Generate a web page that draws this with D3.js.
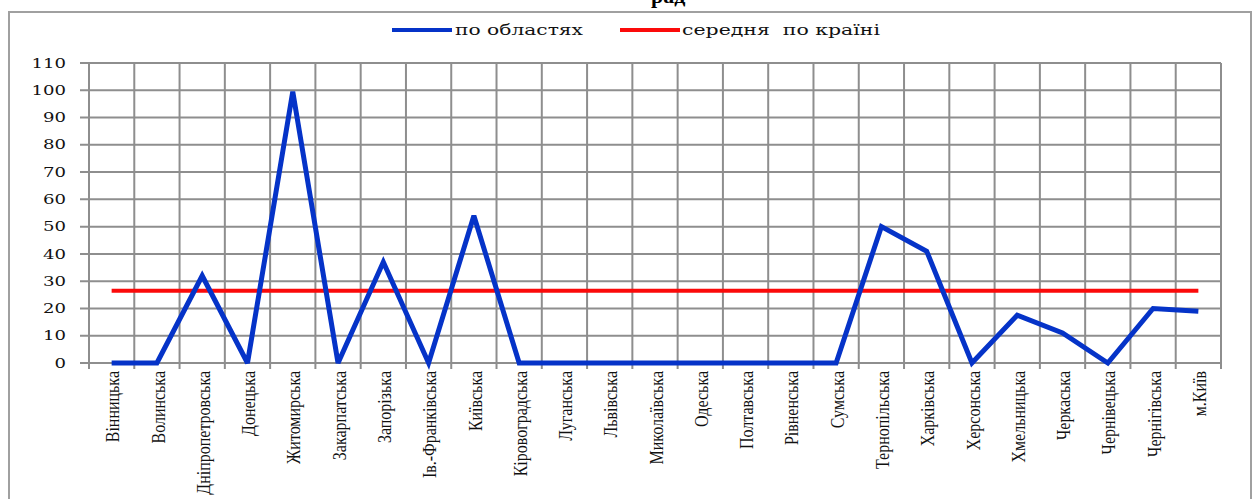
<!DOCTYPE html>
<html>
<head>
<meta charset="utf-8">
<script src="https://cdn.jsdelivr.net/npm/d3@7/dist/d3.min.js"></script>
<style>
  html, body { margin: 0; padding: 0; background: #fff; }
  svg { display: block; }
</style>
</head>
<body>
<svg id="chart" width="1258" height="499"></svg>
<script>
// Regions of Ukraine (x categories)
const regions = [
  "Вінницька", "Волинська", "Дніпропетровська", "Донецька", "Житомирська",
  "Закарпатська", "Запорізька", "Ів.-Франківська", "Київська", "Кіровоградська",
  "Луганська", "Львівська", "Миколаївська", "Одеська", "Полтавська",
  "Рівненська", "Сумська", "Тернопільська", "Харківська", "Херсонська",
  "Хмельницька", "Черкаська", "Чернівецька", "Чернігівська", "м.Київ"
];

// Value per region
const regionValues = [
  0, 0, 32, 0, 99.5,
  0, 37, 0, 54, 0,
  0, 0, 0, 0, 0,
  0, 0, 50, 41, 0,
  17.5, 11, 0, 20, 19
];

// Country average, one value per region so it runs across the whole chart
const countryAverage = regions.map(() => 26.5);

// Y axis tick labels
const yTicks = [0, 10, 20, 30, 40, 50, 60, 70, 80, 90, 100, 110];

// Legend entries
const legendLabels = ["по областях", "середня  по країні"];

const svg = d3.select("#chart");
const W = 1258, H = 499;
const plot = { left: 89, right: 1221, top: 63, bottom: 363 };
const gridColor = "#8e8e8e";
const blue = "#0533c8";
const red = "#fb0a0a";

// Outer frame
svg.append("rect")
  .attr("x", 9).attr("y", 12)
  .attr("width", 1242).attr("height", H)
  .attr("fill", "#fff")
  .attr("stroke", "#a0a0a0").attr("stroke-width", 2);

// Title (top edge, clipped by the page)
svg.append("text")
  .attr("x", 651).attr("y", 3)
  .attr("font-family", "Liberation Serif")
  .attr("font-weight", "bold")
  .attr("font-size", 22)
  .text("рад");

const x = d3.scaleBand().domain(regions).range([plot.left, plot.right]).padding(0);
const y = d3.scaleLinear().domain([0, 110]).range([plot.bottom, plot.top]);
const cx = d => x(d) + x.bandwidth() / 2;

// Horizontal gridlines with outward ticks
const g = svg.append("g");
g.selectAll("line.h").data(yTicks).join("line")
  .attr("class", "h")
  .attr("x1", plot.left - 9).attr("x2", plot.right)
  .attr("y1", d => y(d)).attr("y2", d => y(d))
  .attr("stroke", gridColor).attr("stroke-width", 2);

// Vertical gridlines at category boundaries, extending below the axis as ticks
const bounds = regions.map(d => x(d)).concat([plot.right]);
g.selectAll("line.v").data(bounds).join("line")
  .attr("class", "v")
  .attr("x1", d => d).attr("x2", d => d)
  .attr("y1", plot.top).attr("y2", plot.bottom + 6)
  .attr("stroke", gridColor).attr("stroke-width", 2);

// Y tick labels
svg.append("g").selectAll("text").data(yTicks).join("text")
  .attr("x", 66)
  .attr("y", d => y(d))
  .attr("dy", "0.36em")
  .attr("text-anchor", "end")
  .attr("font-family", "DejaVu Serif")
  .attr("font-size", 13)
  .attr("textLength", d => String(d).length * 11.5)
  .attr("lengthAdjust", "spacingAndGlyphs")
  .attr("fill", "#111")
  .text(d => d);

// X category labels, rotated
svg.append("g").selectAll("text").data(regions).join("text")
  .attr("transform", d => `translate(${cx(d) + 1},371) scale(1.22,1) rotate(-90)`)
  .attr("text-anchor", "end")
  .attr("dy", "0.34em")
  .attr("font-family", "Liberation Serif")
  .attr("font-size", 16)
  .attr("fill", "#111")
  .text(d => d);

// Average line
const avgLine = d3.line().x((d, i) => cx(regions[i])).y(d => y(d));
svg.append("path")
  .datum(countryAverage)
  .attr("d", avgLine)
  .attr("fill", "none")
  .attr("stroke", red).attr("stroke-width", 4);

// Regional values line
const valLine = d3.line().x((d, i) => cx(regions[i])).y(d => y(d));
svg.append("path")
  .datum(regionValues)
  .attr("d", valLine)
  .attr("fill", "none")
  .attr("stroke", blue).attr("stroke-width", 5)
  .attr("stroke-linejoin", "miter").attr("stroke-miterlimit", 3);

// Legend
const legend = [
  { label: legendLabels[0], color: blue, x1: 392, x2: 452, tx: 455, tl: 128 },
  { label: legendLabels[1], color: red, x1: 620, x2: 680, tx: 682, tl: 198 }
];
const lg = svg.append("g").selectAll("g").data(legend).join("g");
lg.append("line")
  .attr("x1", d => d.x1).attr("x2", d => d.x2)
  .attr("y1", 30).attr("y2", 30)
  .attr("stroke", d => d.color).attr("stroke-width", 4);
lg.append("text")
  .attr("x", d => d.tx).attr("y", 35)
  .attr("font-family", "DejaVu Serif")
  .attr("font-size", 15)
  .attr("textLength", d => d.tl)
  .attr("lengthAdjust", "spacingAndGlyphs")
  .attr("fill", "#111")
  .style("white-space", "pre")
  .text(d => d.label);
</script>
</body>
</html>
